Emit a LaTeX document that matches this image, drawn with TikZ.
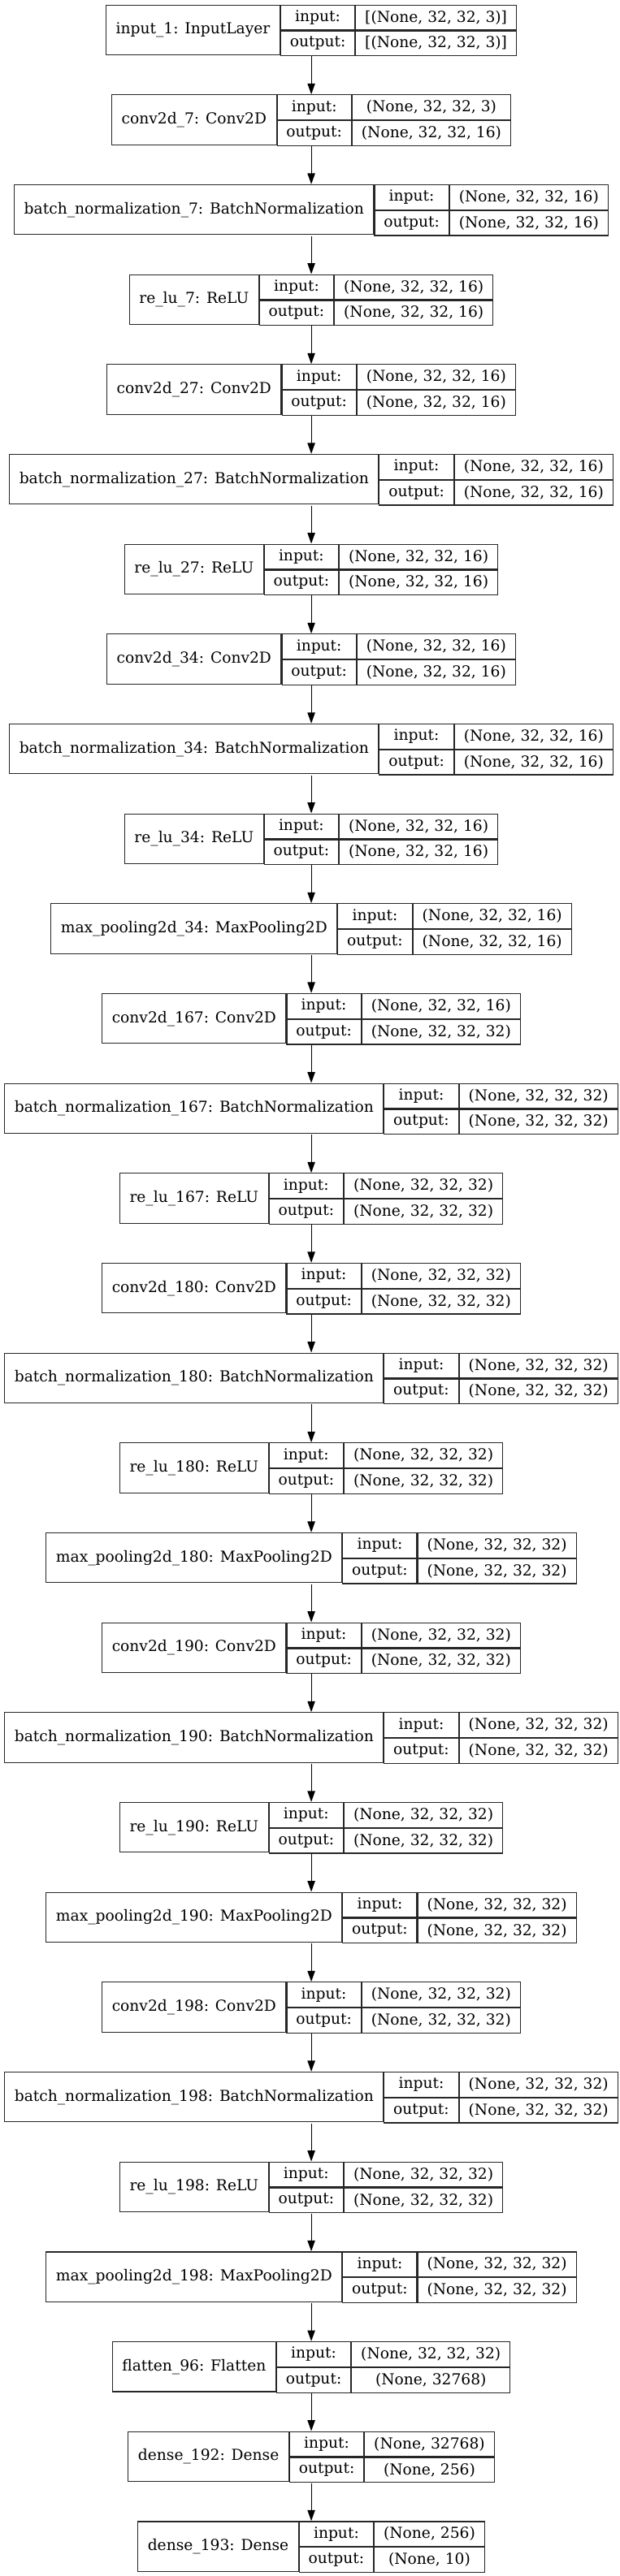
\documentclass[tikz,border=0pt]{standalone}
\usepackage{fontspec}
\setmainfont{DejaVu Serif}
\usepackage{tikz}
\usetikzlibrary{arrows.meta,fit}

\newcommand\cellfont{\fontsize{14pt}{16.8pt}\selectfont}
\newdimen\namew
\newdimen\valw
\newdimen\tmpw
\newdimen\iow

\tikzset{
  cell/.style={draw=black!85, line width=0.8pt, inner sep=0pt, anchor=north west,
    font=\cellfont, minimum height=23pt},
  namecell/.style={cell, minimum height=46pt},
  iocell/.style={cell, minimum width=\iow},
  arr/.style={-{Triangle[length=10pt,width=7pt]}, line width=0.8pt, black}
}

% one layer box: id, row, name, input shape, output shape
\newcommand\layer[5]{%
  \pgfinterruptpicture
    \setbox0\hbox{\cellfont #3}\global\namew=\wd0
    \setbox0\hbox{\cellfont #4}\global\valw=\wd0
    \setbox0\hbox{\cellfont #5}\global\tmpw=\wd0
    \setbox0\hbox{\cellfont output:}\global\iow=\wd0
  \endpgfinterruptpicture
  \ifdim\tmpw>\valw \global\valw=\tmpw\fi
  \global\advance\namew by 18pt
  \global\advance\valw by 17.3pt
  \global\advance\iow by 17pt
  \pgfmathsetmacro\lx{\midx-(\namew+\iow+\valw)/2}%
  \pgfmathsetmacro\ty{\topy+\stepy*(#2-1)}%
  \node[namecell, minimum width=\namew] (#1n) at (\lx,\ty) {#3};
  \node[iocell] (#1i) at (#1n.north east) {input:};
  \node[iocell] (#1o) at (#1i.south west) {output:};
  \node[cell, minimum width=\valw] (#1iv) at (#1i.north east) {#4};
  \node[cell, minimum width=\valw] (#1ov) at (#1iv.south west) {#5};
  \node[fit=(#1n)(#1ov), inner sep=0pt] (#1) {};
}

\def\midx{286.1}
\def\topy{4.3}
\def\stepy{83}

\begin{document}
\begin{tikzpicture}[x=1pt, y=-1pt]
  \useasboundingbox (0,0) rectangle (572.25,2379);

  % Layers
  \layer{inp}{1}{input\_1: InputLayer}{[(None, 32, 32, 3)]}{[(None, 32, 32, 3)]}
  \layer{c7}{2}{conv2d\_7: Conv2D}{(None, 32, 32, 3)}{(None, 32, 32, 16)}
  \layer{bn7}{3}{batch\_normalization\_7: BatchNormalization}{(None, 32, 32, 16)}{(None, 32, 32, 16)}
  \layer{r7}{4}{re\_lu\_7: ReLU}{(None, 32, 32, 16)}{(None, 32, 32, 16)}
  \layer{c27}{5}{conv2d\_27: Conv2D}{(None, 32, 32, 16)}{(None, 32, 32, 16)}
  \layer{bn27}{6}{batch\_normalization\_27: BatchNormalization}{(None, 32, 32, 16)}{(None, 32, 32, 16)}
  \layer{r27}{7}{re\_lu\_27: ReLU}{(None, 32, 32, 16)}{(None, 32, 32, 16)}
  \layer{c34}{8}{conv2d\_34: Conv2D}{(None, 32, 32, 16)}{(None, 32, 32, 16)}
  \layer{bn34}{9}{batch\_normalization\_34: BatchNormalization}{(None, 32, 32, 16)}{(None, 32, 32, 16)}
  \layer{r34}{10}{re\_lu\_34: ReLU}{(None, 32, 32, 16)}{(None, 32, 32, 16)}
  \layer{mp34}{11}{max\_pooling2d\_34: MaxPooling2D}{(None, 32, 32, 16)}{(None, 32, 32, 16)}
  \layer{c167}{12}{conv2d\_167: Conv2D}{(None, 32, 32, 16)}{(None, 32, 32, 32)}
  \layer{bn167}{13}{batch\_normalization\_167: BatchNormalization}{(None, 32, 32, 32)}{(None, 32, 32, 32)}
  \layer{r167}{14}{re\_lu\_167: ReLU}{(None, 32, 32, 32)}{(None, 32, 32, 32)}
  \layer{c180}{15}{conv2d\_180: Conv2D}{(None, 32, 32, 32)}{(None, 32, 32, 32)}
  \layer{bn180}{16}{batch\_normalization\_180: BatchNormalization}{(None, 32, 32, 32)}{(None, 32, 32, 32)}
  \layer{r180}{17}{re\_lu\_180: ReLU}{(None, 32, 32, 32)}{(None, 32, 32, 32)}
  \layer{mp180}{18}{max\_pooling2d\_180: MaxPooling2D}{(None, 32, 32, 32)}{(None, 32, 32, 32)}
  \layer{c190}{19}{conv2d\_190: Conv2D}{(None, 32, 32, 32)}{(None, 32, 32, 32)}
  \layer{bn190}{20}{batch\_normalization\_190: BatchNormalization}{(None, 32, 32, 32)}{(None, 32, 32, 32)}
  \layer{r190}{21}{re\_lu\_190: ReLU}{(None, 32, 32, 32)}{(None, 32, 32, 32)}
  \layer{mp190}{22}{max\_pooling2d\_190: MaxPooling2D}{(None, 32, 32, 32)}{(None, 32, 32, 32)}
  \layer{c198}{23}{conv2d\_198: Conv2D}{(None, 32, 32, 32)}{(None, 32, 32, 32)}
  \layer{bn198}{24}{batch\_normalization\_198: BatchNormalization}{(None, 32, 32, 32)}{(None, 32, 32, 32)}
  \layer{r198}{25}{re\_lu\_198: ReLU}{(None, 32, 32, 32)}{(None, 32, 32, 32)}
  \layer{mp198}{26}{max\_pooling2d\_198: MaxPooling2D}{(None, 32, 32, 32)}{(None, 32, 32, 32)}
  \layer{fl96}{27}{flatten\_96: Flatten}{(None, 32, 32, 32)}{(None, 32768)}
  \layer{d192}{28}{dense\_192: Dense}{(None, 32768)}{(None, 256)}
  \layer{d193}{29}{dense\_193: Dense}{(None, 256)}{(None, 10)}

  % Connections
  \foreach \a/\b in {inp/c7, c7/bn7, bn7/r7, r7/c27, c27/bn27, bn27/r27, r27/c34,
      c34/bn34, bn34/r34, r34/mp34, mp34/c167, c167/bn167, bn167/r167, r167/c180,
      c180/bn180, bn180/r180, r180/mp180, mp180/c190, c190/bn190, bn190/r190,
      r190/mp190, mp190/c198, c198/bn198, bn198/r198, r198/mp198, mp198/fl96,
      fl96/d192, d192/d193}
    \draw[arr] (\a.south) -- (\b.north);
\end{tikzpicture}
\end{document}
